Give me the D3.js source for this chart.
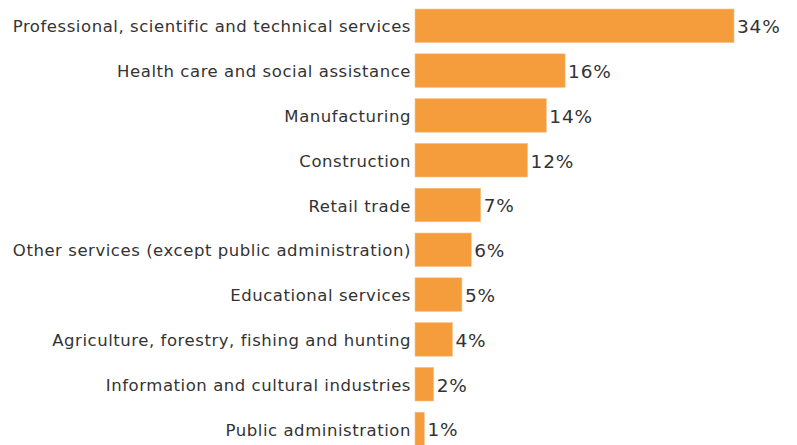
<!DOCTYPE html>
<html>
<head>
<meta charset="utf-8">
<script src="https://cdn.jsdelivr.net/npm/d3@7"></script>
<style>
  html, body { margin: 0; padding: 0; background: #fff; }
  svg { display: block; }
  text { font-family: "DejaVu Sans", sans-serif; fill: #333; }
</style>
</head>
<body>
<svg id="chart" width="797" height="445"></svg>
<script>
const industries = [
  "Professional, scientific and technical services",
  "Health care and social assistance",
  "Manufacturing",
  "Construction",
  "Retail trade",
  "Other services (except public administration)",
  "Educational services",
  "Agriculture, forestry, fishing and hunting",
  "Information and cultural industries",
  "Public administration"
];
const shares = [34, 16, 14, 12, 7, 6, 5, 4, 2, 1];

const data = industries.map((name, i) => ({ name, value: shares[i] }));

const svg = d3.select("#chart");

const x = d3.scaleLinear().domain([0, 34]).range([415, 734]);
const y = d3.scaleBand()
  .domain(industries)
  .range([9, 445.8])
  .paddingInner(0.25)
  .paddingOuter(0);

const bars = svg.append("g");
bars.selectAll("rect")
  .data(data)
  .join("rect")
  .attr("x", x(0))
  .attr("y", d => y(d.name))
  .attr("width", d => x(d.value) - x(0))
  .attr("height", y.bandwidth())
  .attr("fill", "#f59d3d")
  .attr("stroke", "#f8c48a")
  .attr("stroke-width", 0.6);

// category labels as a left axis without line/ticks
const yAxis = svg.append("g")
  .attr("transform", `translate(${x(0)},0)`)
  .call(d3.axisLeft(y).tickSize(0).tickPadding(4));
yAxis.select(".domain").remove();
yAxis.selectAll("text")
  .attr("font-family", "DejaVu Sans, sans-serif")
  .attr("font-size", 16.5)
  .attr("letter-spacing", 0.55)
  .attr("fill", "#333")
  .attr("dy", "0.4em");

// value labels
svg.append("g").selectAll("text")
  .data(data)
  .join("text")
  .attr("x", d => x(d.value) + 3)
  .attr("y", d => y(d.name) + y.bandwidth() / 2)
  .attr("dy", "0.4em")
  .attr("font-size", 18.5)
  .attr("letter-spacing", 0.8)
  .text(d => d.value + "%");
</script>
</body>
</html>
